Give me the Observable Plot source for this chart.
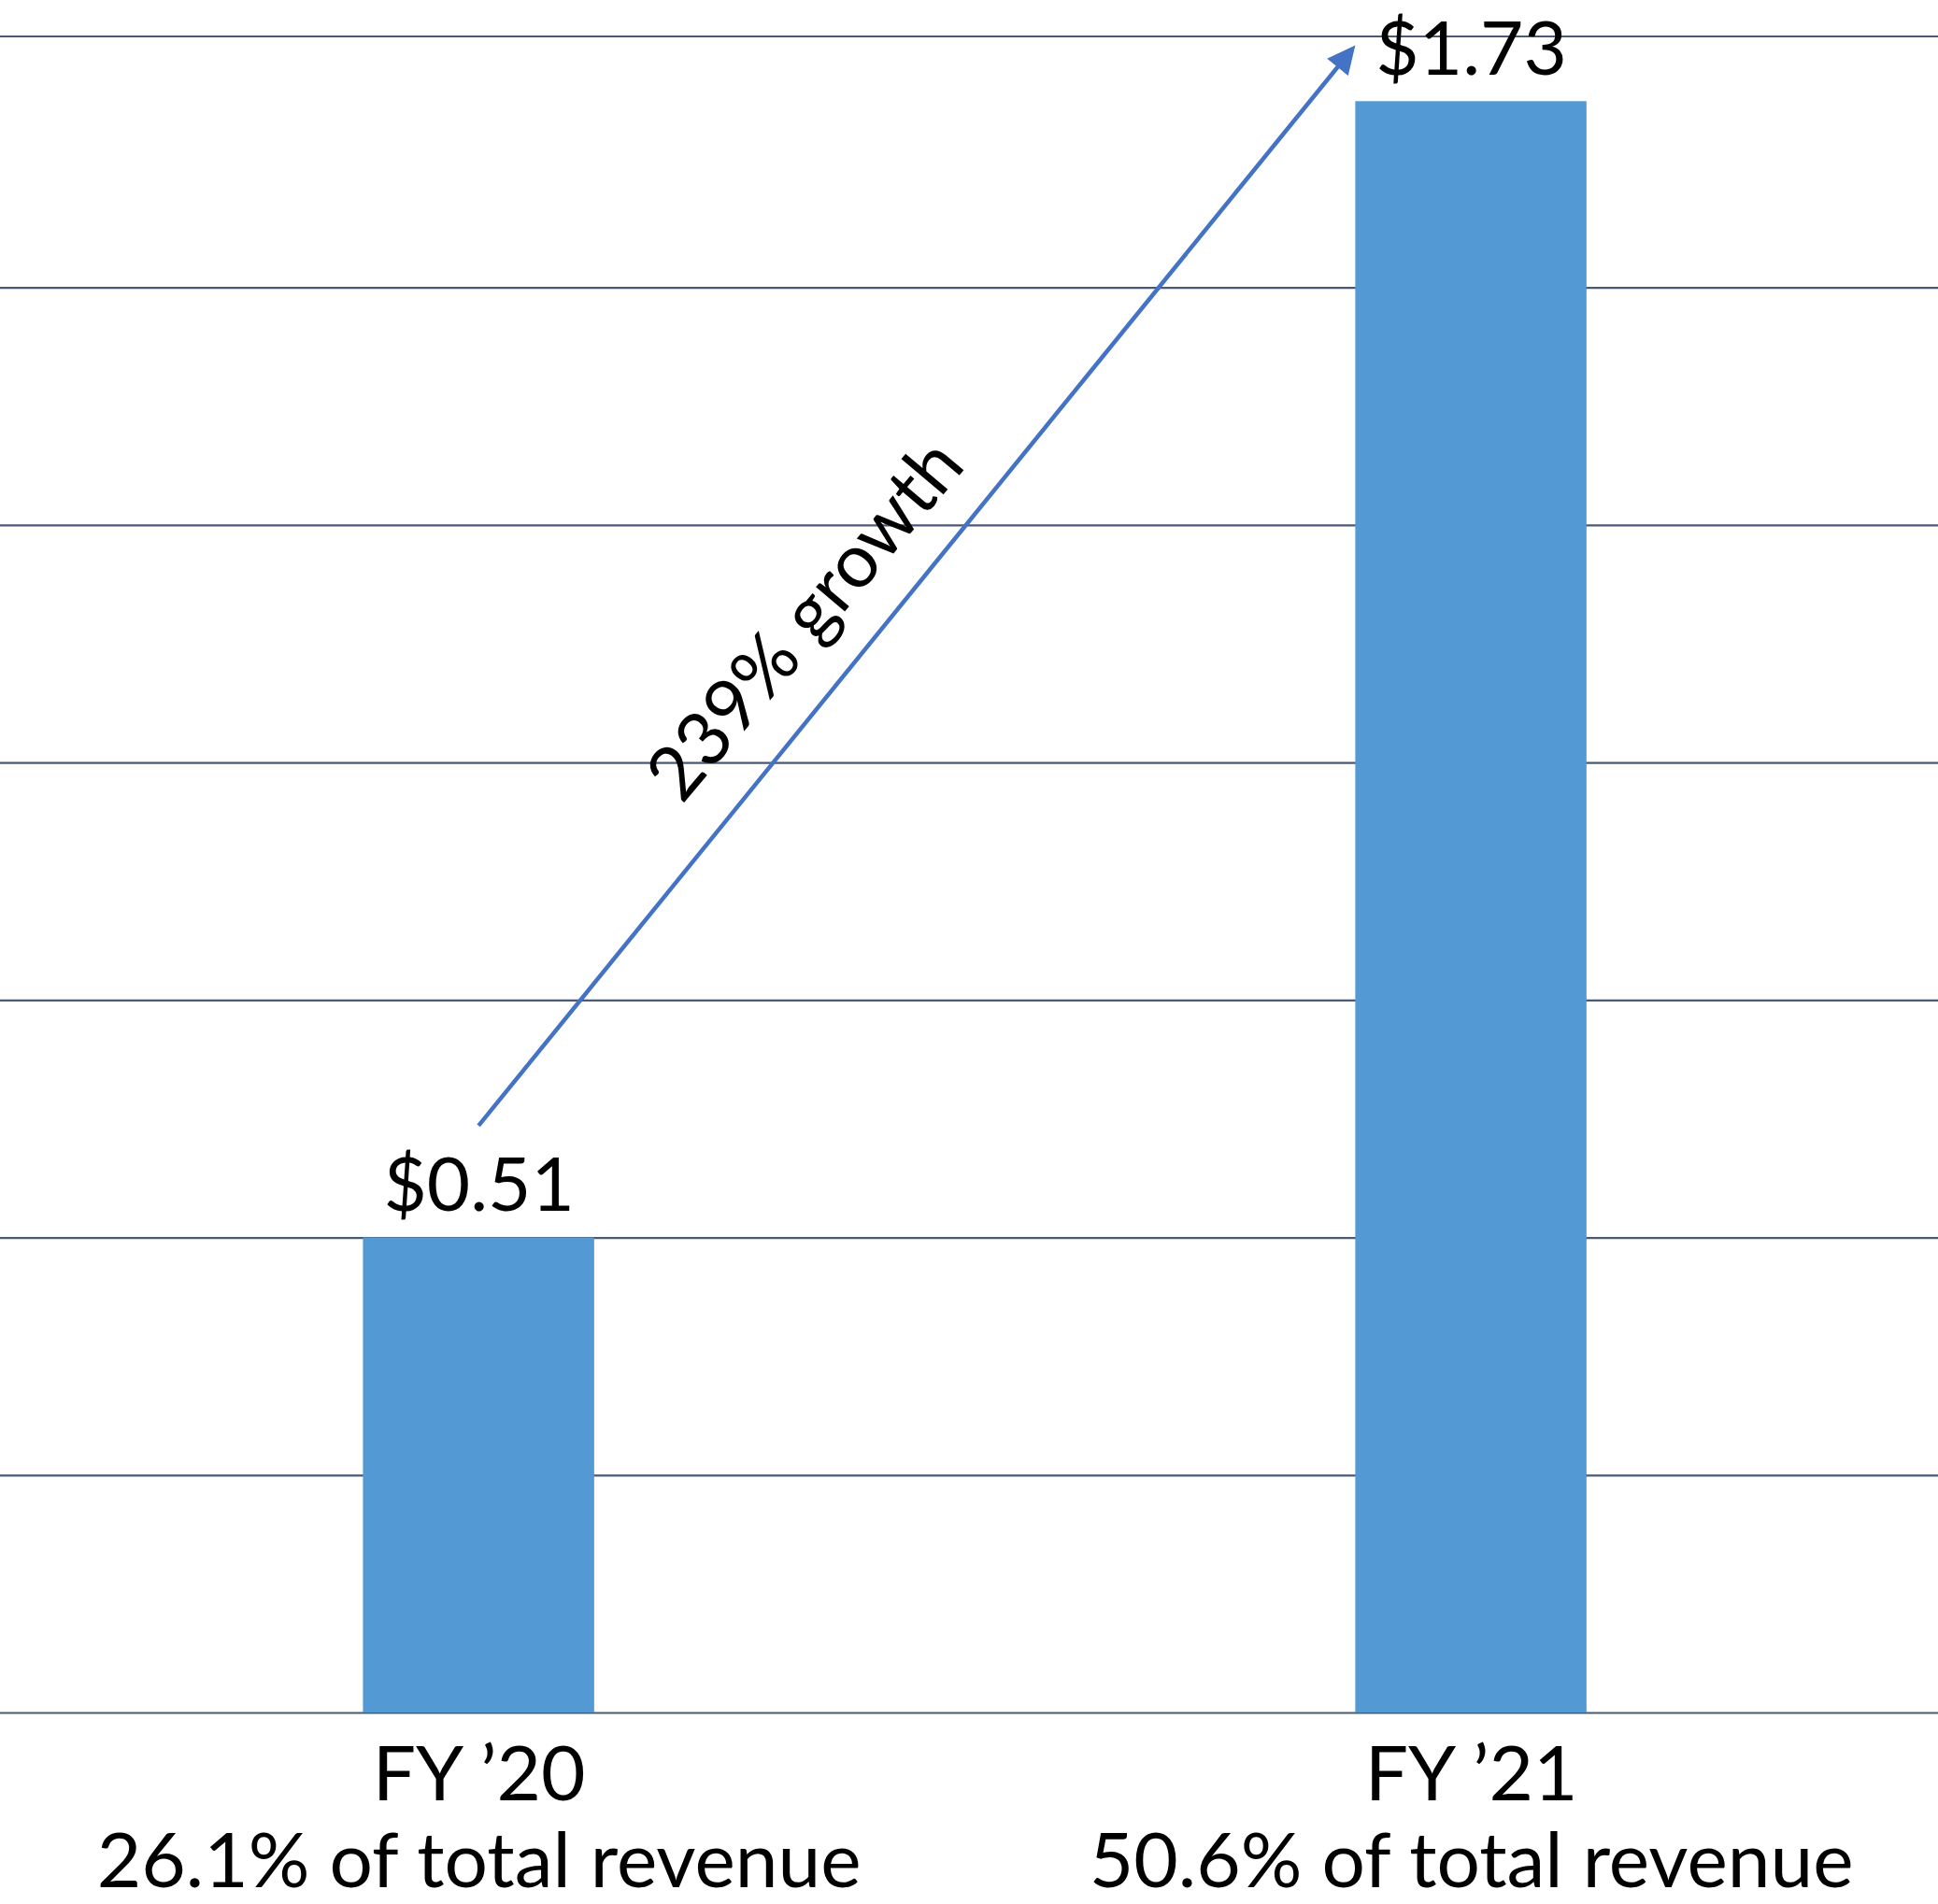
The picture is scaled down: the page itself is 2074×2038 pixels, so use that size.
<!DOCTYPE html>
<html>
<head>
<meta charset="utf-8">
<script src="https://cdn.jsdelivr.net/npm/d3@7"></script>
<script src="https://cdn.jsdelivr.net/npm/@observablehq/plot@0.6"></script>
<style>
  html, body { margin: 0; padding: 0; background: #fff; }
  #chart svg { display: block; }
</style>
</head>
<body>
<div id="chart"></div>
<script>
// ---- data ----
const years = ["FY \u201920", "FY \u201921"];
const values = [0.51, 1.73];
const shares = ["26.1% of total revenue", "50.6% of total revenue"];
const gridValues = [0, 0.255, 0.51, 0.765, 1.02, 1.275, 1.53, 1.8];
const growthLabel = "239% growth";
const arrowStart = {year: "FY \u201920", value: 0.63};
const arrowEnd = {year: "FY \u201921", value: 1.79};

const data = years.map((year, i) => ({year, value: values[i], share: shares[i]}));
const shareMap = new Map(data.map(d => [d.year, d.share]));

const arrowColor = "#4472C4";

function growthArrow(index, scales) {
  const x = scales.x, y = scales.y;
  let bw = 0;
  if (typeof x.bandwidth === "function") bw = x.bandwidth();
  else if (scales.scales && scales.scales.x) bw = scales.scales.x.bandwidth;
  const g = d3.create("svg:g");
  const x0 = x(arrowStart.year) + bw / 2, y0 = y(arrowStart.value);
  const x1 = x(arrowEnd.year), y1 = y(arrowEnd.value);
  const dx = x1 - x0, dy = y1 - y0, len = Math.hypot(dx, dy);
  const ux = dx / len, uy = dy / len;
  const headLen = 30, headW = 14.5;
  const bx = x1 - ux * headLen, by = y1 - uy * headLen;
  g.append("line")
    .attr("x1", x0).attr("y1", y0)
    .attr("x2", bx + ux * 2).attr("y2", by + uy * 2)
    .attr("stroke", arrowColor).attr("stroke-width", 4.5);
  g.append("path")
    .attr("d", `M${x1},${y1}L${bx - uy * headW},${by + ux * headW}L${bx + uy * headW},${by - ux * headW}Z`)
    .attr("fill", arrowColor);
  const t = 0.43, off = 43;
  const px = x0 + dx * t, py = y0 + dy * t;
  const lx = px + uy * off, ly = py - ux * off;
  const angle = Math.atan2(dy, dx) * 180 / Math.PI + 1;
  g.append("text")
    .attr("transform", `translate(${lx},${ly}) rotate(${angle})`)
    .attr("text-anchor", "middle")
    .attr("font-size", 80)
    .attr("fill", "#000")
    .text(growthLabel);
  return g.node();
}

const chart = Plot.plot({
  width: 2074,
  height: 2038,
  marginTop: 38.5,
  marginBottom: 205,
  marginLeft: 0,
  marginRight: 0,
  style: {fontFamily: "Lato, 'Open Sans', sans-serif", background: "#fff", overflow: "visible", color: "#000"},
  x: {domain: years, paddingInner: 0.767, paddingOuter: 0.36, align: 0.508, round: false, label: null},
  y: {domain: [0, 1.8], axis: null},
  marks: [
    Plot.ruleY(gridValues, {stroke: "#4A5A76", strokeWidth: 2.2}),
    Plot.barY(data, {x: "year", y: "value", fill: "#5399D3"}),
    Plot.text(data, {
      x: "year", y: "value",
      text: d => "$" + d.value.toFixed(2),
      lineAnchor: "bottom", dy: -29, fontSize: 80, fill: "#000"
    }),
    Plot.axisX({
      label: null,
      tickSize: 0, tickPadding: 28, fontSize: 82, lineHeight: 1.13, fill: "#000",
      tickFormat: d => d + "\n" + shareMap.get(d)
    }),
    growthArrow
  ]
});
document.getElementById("chart").appendChild(chart);
</script>
</body>
</html>
